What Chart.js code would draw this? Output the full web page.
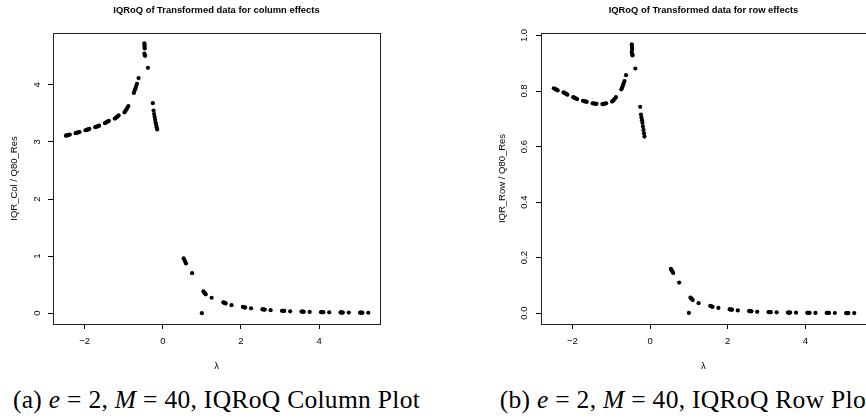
<!DOCTYPE html>
<html>
<head>
<meta charset="utf-8">
<script src="https://cdn.jsdelivr.net/npm/chart.js@4/dist/chart.umd.min.js"></script>
<style>
  html, body { margin: 0; padding: 0; width: 866px; height: 419px; overflow: hidden; background: #fff; }
  #colChart { position: absolute; left: 0; top: 0; }
  #rowChart { position: absolute; left: 433px; top: 0; }
  .cap { position: absolute; top: 385px; width: 433px; text-align: center; white-space: nowrap;
         font-family: "Liberation Serif", serif; font-size: 25.5px; letter-spacing: 0.3px; color: #000; }
</style>
</head>
<body>
<canvas id="colChart" width="433" height="380"></canvas>
<canvas id="rowChart" width="435" height="380"></canvas>
<div class="cap" style="left:0">(a) <i>e</i> = 2, <i>M</i> = 40, IQRoQ Column Plot</div>
<div class="cap" style="left:470px">(b) <i>e</i> = 2, <i>M</i> = 40, IQRoQ Row Plot</div>
<script>
// lambda values (shared by both plots)
const lambda = [
  -2.480, -2.455, -2.430, -2.405, -2.380,
  -2.230, -2.205, -2.180, -2.155, -2.130,
  -1.980, -1.955, -1.930, -1.905, -1.880,
  -1.730, -1.705, -1.680, -1.655, -1.630,
  -1.480, -1.455, -1.430, -1.405, -1.380,
  -1.230, -1.205, -1.180, -1.155, -1.130,
  -0.980, -0.955, -0.930, -0.905, -0.880,
  -0.740, -0.720, -0.700, -0.680, -0.660,
  -0.620,
  -0.470, -0.468, -0.466, -0.463, -0.472, -0.458, -0.452,
  -0.380,
  -0.255,
  -0.235, -0.222, -0.209, -0.196, -0.183, -0.170, -0.157, -0.144,
  0.535, 0.555, 0.575, 0.595,
  0.750,
  1.000,
  1.040, 1.060, 1.080, 1.100,
  1.250,
  1.550, 1.570, 1.590, 1.610,
  1.760,
  2.050, 2.070, 2.090, 2.110,
  2.260,
  2.550, 2.570, 2.590, 2.610,
  2.760,
  3.050, 3.070, 3.090, 3.110,
  3.260,
  3.550, 3.570, 3.590, 3.610,
  3.760,
  4.050, 4.070, 4.090, 4.110,
  4.260,
  4.550, 4.570, 4.590, 4.610,
  4.760,
  5.050, 5.070, 5.090, 5.110,
  5.260
];

// IQR_Col / Q80_Res
const iqrCol = [
  3.110, 3.115, 3.120, 3.125, 3.130,
  3.155, 3.160, 3.165, 3.170, 3.175,
  3.205, 3.210, 3.215, 3.220, 3.230,
  3.260, 3.265, 3.270, 3.280, 3.285,
  3.330, 3.340, 3.350, 3.360, 3.370,
  3.410, 3.420, 3.435, 3.450, 3.465,
  3.520, 3.545, 3.570, 3.600, 3.630,
  3.860, 3.900, 3.940, 3.980, 4.020,
  4.120,
  4.730, 4.700, 4.670, 4.640, 4.550, 4.520, 4.510,
  4.300,
  3.680,
  3.550, 3.490, 3.440, 3.390, 3.340, 3.300, 3.260, 3.220,
  0.960, 0.930, 0.900, 0.870,
  0.700,
  0.000,
  0.380, 0.360, 0.345, 0.330,
  0.270,
  0.190, 0.183, 0.176, 0.170,
  0.140,
  0.110, 0.106, 0.102, 0.098,
  0.085,
  0.068, 0.066, 0.064, 0.062,
  0.052,
  0.042, 0.041, 0.040, 0.039,
  0.033,
  0.028, 0.027, 0.026, 0.025,
  0.022,
  0.018, 0.018, 0.017, 0.017,
  0.015,
  0.012, 0.012, 0.011, 0.011,
  0.010,
  0.008, 0.008, 0.008, 0.007,
  0.007
];

// IQR_Row / Q80_Res
const iqrRow = [
  0.810, 0.808, 0.806, 0.804, 0.802,
  0.795, 0.793, 0.791, 0.789, 0.787,
  0.778, 0.776, 0.774, 0.773, 0.771,
  0.765, 0.764, 0.763, 0.762, 0.761,
  0.756, 0.755, 0.755, 0.754, 0.754,
  0.753, 0.753, 0.754, 0.755, 0.756,
  0.762, 0.765, 0.769, 0.773, 0.778,
  0.806, 0.813, 0.820, 0.828, 0.836,
  0.857,
  0.968, 0.962, 0.956, 0.950, 0.940, 0.932, 0.928,
  0.881,
  0.743,
  0.715, 0.705, 0.695, 0.685, 0.672, 0.660, 0.648, 0.636,
  0.160, 0.155, 0.150, 0.145,
  0.110,
  0.001,
  0.056, 0.053, 0.050, 0.047,
  0.036,
  0.026, 0.025, 0.024, 0.023,
  0.019,
  0.014, 0.0135, 0.013, 0.0125,
  0.010,
  0.0075, 0.0072, 0.0070, 0.0068,
  0.005,
  0.004, 0.004, 0.0038, 0.0036,
  0.003,
  0.002, 0.002, 0.002, 0.002,
  0.0017,
  0.0012, 0.0012, 0.0012, 0.0011,
  0.001,
  0.0008, 0.0008, 0.0008, 0.0008,
  0.0006,
  0.0005, 0.0005, 0.0005, 0.0005,
  0.0004
];

const xTicks = [-2, 0, 2, 4];
const colYTicks = [0, 1, 2, 3, 4];
const rowYTicks = [0, 0.2, 0.4, 0.6, 0.8, 1.0];

const xRange = [-2.81, 5.56];
const colYRange = [-0.19, 4.91];
const rowYRange = [-0.039, 1.009];

const boxPlugin = {
  id: 'box',
  afterDraw(chart) {
    const a = chart.chartArea, c = chart.ctx;
    c.save();
    c.strokeStyle = '#222';
    c.lineWidth = 1;
    c.strokeRect(Math.round(a.left) + 0.5, Math.round(a.top) + 0.5,
                 Math.round(a.right - a.left), Math.round(a.bottom - a.top));
    c.restore();
  }
};

const minus = v => (v < 0 ? '\u2212' + Math.abs(v) : String(v));
const font = {family: 'Liberation Sans', size: 9.5};

function drawPlot(id, values, o) {
  const points = lambda.map((x, i) => ({x: x, y: values[i]}));
  return new Chart(document.getElementById(id), {
    type: 'scatter',
    data: {
      datasets: [{
        data: points,
        backgroundColor: '#000',
        pointRadius: 2.1,
        pointBorderWidth: 0,
        pointHoverRadius: 2.1
      }]
    },
    options: {
      responsive: false,
      animation: false,
      devicePixelRatio: 1,
      events: [],
      layout: {padding: {left: o.padLeft, right: o.padRight, top: 0, bottom: 0}},
      plugins: {
        legend: {display: false},
        tooltip: {enabled: false},
        title: {
          display: true,
          text: o.title,
          fullSize: false,
          color: '#000',
          font: {family: 'Liberation Sans', size: 9.4, weight: 'bold'},
          padding: {top: 4.7, bottom: 17}
        }
      },
      scales: {
        x: {
          type: 'linear',
          min: xRange[0],
          max: xRange[1],
          afterFit: s => { s.height = 56; },
          afterBuildTicks: s => { s.ticks = xTicks.map(v => ({value: v})); },
          grid: {drawOnChartArea: false, drawTicks: true, tickLength: 5, color: '#000'},
          border: {display: false},
          ticks: {color: '#000', font: font, padding: 7, maxRotation: 0, callback: minus},
          title: {display: true, text: 'λ', color: '#000', font: font, padding: {top: 0, bottom: 8.3}}
        },
        y: {
          type: 'linear',
          min: o.yRange[0],
          max: o.yRange[1],
          afterFit: s => { s.width = 53; },
          afterBuildTicks: s => { s.ticks = o.yTicks.map(v => ({value: v})); },
          grid: {drawOnChartArea: false, drawTicks: true, tickLength: 5, color: '#000'},
          border: {display: false},
          ticks: {color: '#000', font: font, padding: o.tickPad, minRotation: 90, maxRotation: 90,
                  crossAlign: 'center', callback: o.fmt},
          title: {display: true, text: o.yTitle, color: '#000', font: font, padding: {top: 9, bottom: 0}}
        }
      }
    },
    plugins: [boxPlugin]
  });
}

drawPlot('colChart', iqrCol, {
  title: 'IQRoQ of Transformed data for column effects',
  yTitle: 'IQR_Col / Q80_Res',
  yRange: colYRange, yTicks: colYTicks,
  fmt: v => String(v),
  tickPad: 8, padLeft: 0, padRight: 53
});

drawPlot('rowChart', iqrRow, {
  title: 'IQRoQ of Transformed data for row effects',
  yTitle: 'IQR_Row / Q80_Res',
  yRange: rowYRange, yTicks: rowYTicks,
  fmt: v => v.toFixed(1),
  tickPad: 4.9, padLeft: 55, padRight: 0
});
</script>
</body>
</html>
